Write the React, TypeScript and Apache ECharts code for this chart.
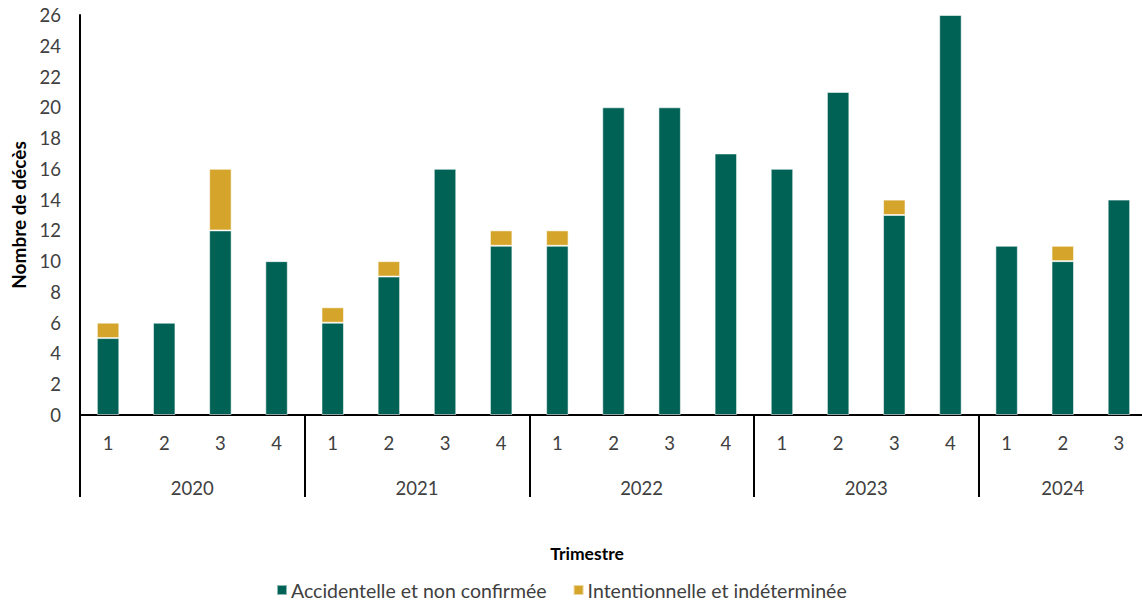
import React, { useEffect, useRef } from "react";
import * as echarts from "echarts";

// Quarterly deaths, 2020 Q1 to 2024 Q3
const quarters = ["1", "2", "3", "4", "1", "2", "3", "4", "1", "2", "3", "4", "1", "2", "3", "4", "1", "2", "3"];
const years = ["2020", "2021", "2022", "2023", "2024"];
const quartersPerYear = [4, 4, 4, 4, 3];
const accidental = [5, 6, 12, 10, 6, 9, 16, 11, 11, 20, 20, 17, 16, 21, 13, 26, 11, 10, 14];
const intentional = [1, 0, 4, 0, 1, 1, 0, 1, 1, 0, 0, 0, 0, 0, 1, 0, 0, 1, 0];
const yTicks = { min: 0, max: 26, step: 2 };

const FONT = "Lato, 'Noto Sans', sans-serif";
const TEXT = "#404040";

export default function App() {
  const ref = useRef<HTMLDivElement>(null);

  useEffect(() => {
    if (!ref.current) return;
    const chart = echarts.init(ref.current, null, { renderer: "svg" });

    // year boundaries and centres on a 0..N value scale
    const bounds: number[] = [0];
    quartersPerYear.forEach((n) => bounds.push(bounds[bounds.length - 1] + n));
    const centres = quartersPerYear.map((n, i) => bounds[i] + n / 2);
    const yearAt = (v: number) => {
      const i = centres.findIndex((c) => Math.abs(c - v) < 1e-6);
      return i >= 0 ? years[i] : "";
    };

    const blankZero = (arr: number[]) => arr.map((v) => (v === 0 ? "-" : v));

    chart.setOption({
      animation: false,
      textStyle: { fontFamily: FONT },
      grid: {
        left: 80,
        top: 15,
        width: 1067,
        height: 400,
        containLabel: false,
        outerBoundsMode: "none",
      },
      title: {
        text: "Trimestre",
        left: 582,
        top: 539,
        textAlign: "center",
        textStyle: { fontFamily: FONT, fontSize: 17.5, fontWeight: "bold", color: "#000" },
      },
      legend: {
        left: 271,
        top: 575,
        icon: "rect",
        itemWidth: 10,
        itemHeight: 10,
        itemGap: 26,
        textStyle: { fontFamily: FONT, fontSize: 19.5, color: TEXT, padding: [0, 0, 0, -1] },
        data: ["Accidentelle et non confirmée", "Intentionnelle et indéterminée"],
      },
      xAxis: [
        {
          type: "category",
          data: quarters,
          position: "bottom",
          axisLine: { show: true, lineStyle: { color: "#000", width: 2 } },
          axisTick: { show: false },
          axisLabel: { margin: 18, fontSize: 18.5, color: TEXT, fontFamily: FONT },
        },
        {
          type: "value",
          min: 0,
          max: bounds[bounds.length - 1],
          position: "bottom",
          splitLine: { show: false },
          axisLine: { show: false },
          axisTick: {
            show: true,
            customValues: bounds.slice(0, -1),
            length: 82,
            lineStyle: { color: "#000", width: 2 },
          },
          axisLabel: {
            customValues: centres,
            margin: 63,
            fontSize: 18.5,
            color: TEXT,
            fontFamily: FONT,
            formatter: (v: number) => yearAt(v),
          },
        },
      ],
      yAxis: {
        type: "value",
        min: yTicks.min,
        max: yTicks.max,
        interval: yTicks.step,
        name: "Nombre de décès",
        nameLocation: "middle",
        nameRotate: 90,
        nameGap: 52,
        nameTextStyle: { fontFamily: FONT, fontSize: 19, fontWeight: "bold", color: "#000" },
        splitLine: { show: false },
        axisLine: { show: true, lineStyle: { color: "#000", width: 2 } },
        axisTick: { show: false },
        axisLabel: { fontSize: 18.5, color: TEXT, margin: 19, fontFamily: FONT },
      },
      series: [
        {
          name: "Accidentelle et non confirmée",
          type: "bar",
          stack: "total",
          barWidth: "40%",
          data: accidental,
          itemStyle: { color: "#006155", borderColor: "rgba(255,255,255,0.55)", borderWidth: 1 },
        },
        {
          name: "Intentionnelle et indéterminée",
          type: "bar",
          stack: "total",
          barWidth: "40%",
          data: blankZero(intentional),
          itemStyle: { color: "#D4A52A", borderColor: "rgba(255,255,255,0.55)", borderWidth: 1 },
        },
      ],
    });

    return () => chart.dispose();
  }, []);

  return (
    <div
      ref={ref}
      style={{ position: "fixed", left: 0, top: 0, width: 1142, height: 600, background: "#fff" }}
    />
  );
}
